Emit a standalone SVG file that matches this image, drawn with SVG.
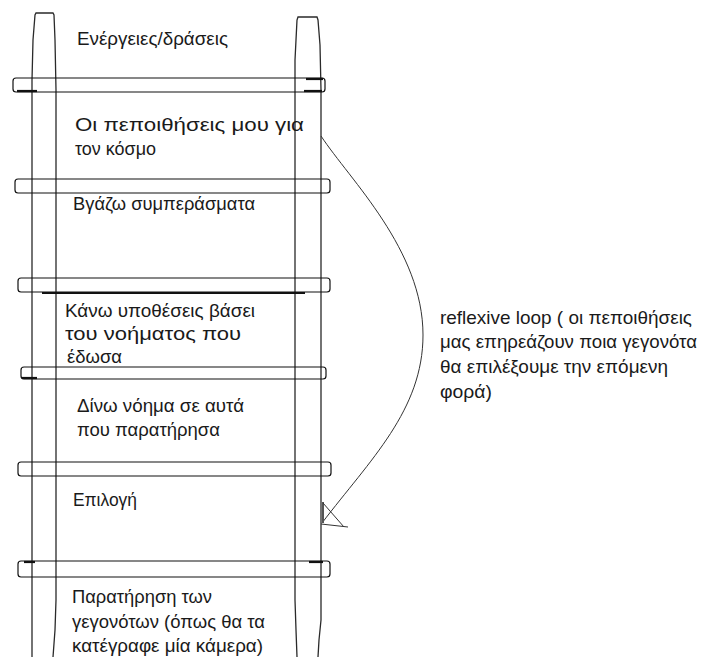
<svg xmlns="http://www.w3.org/2000/svg" width="701" height="657" viewBox="0 0 701 657">
<style>
.rail{fill:none;stroke:#2a2a2a;stroke-width:1.3}
.rung{fill:none;stroke:#111;stroke-width:1.2}
.thick{stroke:#111;stroke-width:2.2}
.t{font-family:"Liberation Sans",Arial,sans-serif;font-size:18.5px;fill:#1a1a1a}
.conn{fill:none;stroke:#333;stroke-width:1}
</style>
<rect width="701" height="657" fill="#fff"/>
<g id="ladder">
<path class="rail" d="M32,657 L32,80 L33,40 L35,15 L36,13 L53,13 L54,15 L55,40 L56,90 L56,600 L55,630 L53,657"/>
<path class="rail" d="M297,657 L296,630 L295,600 L295,60 L296,40 L297,20 L298,17 L317,17 L318,20 L320,45 L321,90 L321,620 L319,640 L318,657"/>
<path class="rung" d="M16,78 L322,78 Q325,78 325,81 L325,89 Q325,92 322,92 L16,92 Q13,92 13,89 L13,81 Q13,78 16,78 Z"/>
<path class="rung" d="M18,179 L327,179 Q330,179 330,182 L330,190 Q330,193 327,193 L18,193 Q15,193 15,190 L15,182 Q15,179 18,179 Z"/>
<path class="rung" d="M21,278 L327,278 Q330,278 330,281 L330,289 Q330,292 327,292 L21,292 Q18,292 18,289 L18,281 Q18,278 21,278 Z"/>
<path class="rung" d="M24,367 L323,367 Q326,367 326,370 L326,376 Q326,379 323,379 L24,379 Q21,379 21,376 L21,370 Q21,367 24,367 Z"/>
<path class="rung" d="M21,462 L328,462 Q331,462 331,465 L331,473 Q331,476 328,476 L21,476 Q18,476 18,473 L18,465 Q18,462 21,462 Z"/>
<path class="rung" d="M21,561 L327,561 Q330,561 330,564 L330,574 Q330,577 327,577 L21,577 Q18,577 18,574 L18,564 Q18,561 21,561 Z"/>
<line class="thick" x1="17" y1="91" x2="37" y2="91"/>
<line class="thick" x1="306" y1="79" x2="323" y2="79"/>
<line class="thick" x1="304" y1="91" x2="322" y2="91"/>
<line class="thick" x1="42" y1="293" x2="305" y2="293"/>
<line class="thick" x1="22" y1="378" x2="37" y2="378"/>
<line class="thick" x1="24" y1="562" x2="35" y2="562"/>
<line class="thick" x1="309" y1="562" x2="323" y2="562"/>
</g>
<g id="step-actions"><text class="t" x="77" y="45" textLength="151" lengthAdjust="spacingAndGlyphs">Ενέργειες/δράσεις</text></g>
<g id="step-beliefs"><text class="t" x="75" y="131" textLength="229" lengthAdjust="spacingAndGlyphs">Οι πεποιθήσεις μου για</text><text class="t" x="75" y="155" textLength="81" lengthAdjust="spacingAndGlyphs">τον κόσμο</text></g>
<g id="step-conclusions"><text class="t" x="73" y="210" textLength="182" lengthAdjust="spacingAndGlyphs">Βγάζω συμπεράσματα</text></g>
<g id="step-assumptions"><text class="t" x="65" y="317" textLength="190" lengthAdjust="spacingAndGlyphs">Κάνω υποθέσεις βάσει</text><text class="t" x="65" y="340" textLength="176" lengthAdjust="spacingAndGlyphs">του νοήματος που</text><text class="t" x="67" y="363" textLength="55" lengthAdjust="spacingAndGlyphs">έδωσα</text></g>
<g id="step-meaning"><text class="t" x="77" y="412" textLength="167" lengthAdjust="spacingAndGlyphs">Δίνω νόημα σε αυτά</text><text class="t" x="77" y="436" textLength="143" lengthAdjust="spacingAndGlyphs">που παρατήρησα</text></g>
<g id="step-selection"><text class="t" x="73" y="506" textLength="64" lengthAdjust="spacingAndGlyphs">Επιλογή</text></g>
<g id="step-observation"><text class="t" x="72" y="603" textLength="140" lengthAdjust="spacingAndGlyphs">Παρατήρηση των</text><text class="t" x="72" y="628" textLength="193" lengthAdjust="spacingAndGlyphs">γεγονότων (όπως θα τα</text><text class="t" x="72" y="652" textLength="191" lengthAdjust="spacingAndGlyphs">κατέγραφε μία κάμερα)</text></g>
<g id="connectors">
<path class="conn" d="M321,136 C350,180 423,250 423,335 C423,410 370,460 322,523"/>
<line x1="323" y1="502" x2="323" y2="523" stroke="#555" stroke-width="2"/>
<line class="conn" x1="323" y1="503" x2="344" y2="527"/>
<line class="conn" x1="321" y1="524" x2="348" y2="527"/>
</g>
<g id="loop-label"><text class="t" x="440" y="324" textLength="252" lengthAdjust="spacingAndGlyphs">reflexive loop ( οι πεποιθήσεις</text><text class="t" x="440" y="348" textLength="257" lengthAdjust="spacingAndGlyphs">μας επηρεάζουν ποια γεγονότα</text><text class="t" x="440" y="373" textLength="228" lengthAdjust="spacingAndGlyphs">θα επιλέξουμε την επόμενη</text><text class="t" x="440" y="398" textLength="52" lengthAdjust="spacingAndGlyphs">φορά)</text></g>
</svg>
